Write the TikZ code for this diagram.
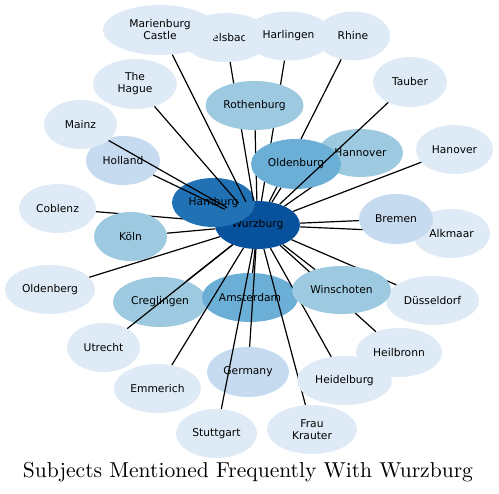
\documentclass[tikz,border=0pt]{standalone}
\usepackage{fontspec}
\usepackage{graphicx}
\usetikzlibrary{shapes.geometric}
\newfontfamily\dejavu{DejaVu Sans}
\newcommand\nodefnt{\dejavu\fontsize{10.7}{12}\selectfont}
\definecolor{b1}{HTML}{08519C}
\definecolor{b2}{HTML}{2171B5}
\definecolor{b3}{HTML}{6BAED6}
\definecolor{b4}{HTML}{9ECAE1}
\definecolor{b5}{HTML}{C6DBEF}
\definecolor{b6}{HTML}{DEEBF7}
\tikzset{
  nb/.style={ellipse, inner sep=0pt, draw=none, font=\nodefnt, align=center, text=black},
  link/.style={draw=black, line width=1.2pt},
}
\begin{document}
\begin{tikzpicture}[x=1pt, y=-1pt]
\useasboundingbox (0,0) rectangle (499,494);
\node[nb, fill=b1, minimum width=85pt, minimum height=48pt] (w) at (257.5,225) {Wurzburg};
\node[nb, fill=b6, minimum width=77pt, minimum height=49pt] (coblenz) at (57.5,208.5) {Coblenz};
\draw[link] (w) -- (coblenz);
\node[nb, fill=b4, minimum width=73pt, minimum height=49pt] (koln) at (130.5,236.5) {Köln};
\draw[link] (w) -- (koln);
\node[nb, fill=b6, minimum width=90pt, minimum height=49pt] (oldenberg) at (50,289.5) {Oldenberg};
\draw[link] (w) -- (oldenberg);
\node[nb, fill=b2, minimum width=83pt, minimum height=49pt] (hamburg) at (213.5,202.5) {Hamburg};
\node[nb, fill=b5, minimum width=74pt, minimum height=49pt] (holland) at (123,160.5) {Holland};
\draw[link] (w) -- (holland);
\node[nb, fill=b6, minimum width=73pt, minimum height=49pt] (mainz) at (80.5,124.5) {Mainz};
\draw[link] (w) -- (mainz);
\node[nb, fill=b6, minimum width=84pt, minimum height=50pt] (hague) at (135,84) {The\\Hague};
\draw[link] (w) -- (hague);
\node[nb, fill=b6, minimum width=89pt, minimum height=49pt] (ebels) at (226,37.5) {Ebelsbach};
\draw[link] (w) -- (ebels);
\node[nb, fill=b6, minimum width=114pt, minimum height=50pt] (marien) at (160,30) {Marienburg\\Castle};
\draw[link] (w) -- (marien);
\node[nb, fill=b6, minimum width=88pt, minimum height=49pt] (harlingen) at (288.5,36) {Harlingen};
\draw[link] (w) -- (harlingen);
\node[nb, fill=b6, minimum width=74pt, minimum height=49pt] (rhine) at (353,36) {Rhine};
\draw[link] (w) -- (rhine);
\node[nb, fill=b4, minimum width=98pt, minimum height=49pt] (rothen) at (254.5,105.5) {Rothenburg};
\draw[link] (w) -- (rothen);
\node[nb, fill=b4, minimum width=85pt, minimum height=48pt] (hannover) at (360.5,153) {Hannover};
\draw[link] (w) -- (hannover);
\node[nb, fill=b3, minimum width=90pt, minimum height=50pt] (oldenburg) at (296,164) {Oldenburg};
\draw[link] (w) -- (oldenburg);
\node[nb, fill=b6, minimum width=74pt, minimum height=50pt] (tauber) at (410,82) {Tauber};
\draw[link] (w) -- (tauber);
\node[nb, fill=b6, minimum width=77pt, minimum height=49pt] (hanover) at (454.5,149.5) {Hanover};
\draw[link] (w) -- (hanover);
\node[nb, fill=b6, minimum width=77pt, minimum height=49pt] (alkmaar) at (451.5,233.5) {Alkmaar};
\draw[link] (w) -- (alkmaar);
\node[nb, fill=b5, minimum width=74pt, minimum height=50pt] (bremen) at (396,219) {Bremen};
\draw[link] (w) -- (bremen);
\node[nb, fill=b4, minimum width=94pt, minimum height=50pt] (cregl) at (160,302) {Creglingen};
\draw[link] (w) -- (cregl);
\node[nb, fill=b6, minimum width=73pt, minimum height=49pt] (utrecht) at (103.5,347.5) {Utrecht};
\draw[link] (w) -- (utrecht);
\node[nb, fill=b3, minimum width=96pt, minimum height=49pt] (amster) at (250,297.5) {Amsterdam};
\draw[link] (w) -- (amster);
\node[nb, fill=b6, minimum width=87pt, minimum height=49pt] (emmerich) at (157.5,388.5) {Emmerich};
\draw[link] (w) -- (emmerich);
\node[nb, fill=b5, minimum width=82pt, minimum height=50pt] (germany) at (248,372) {Germany};
\draw[link] (w) -- (germany);
\node[nb, fill=b6, minimum width=81pt, minimum height=49pt] (stutt) at (216.5,433.5) {Stuttgart};
\draw[link] (w) -- (stutt);
\node[nb, fill=b6, minimum width=90pt, minimum height=49pt] (frau) at (312,429.5) {Frau\\Krauter};
\draw[link] (w) -- (frau);
\node[nb, fill=b6, minimum width=86pt, minimum height=49pt] (heilbronn) at (399,352.5) {Heilbronn};
\draw[link] (w) -- (heilbronn);
\node[nb, fill=b6, minimum width=95pt, minimum height=49pt] (heidel) at (344.5,380.5) {Heidelburg};
\draw[link] (w) -- (heidel);
\node[nb, fill=b6, minimum width=93pt, minimum height=49pt] (dussel) at (432.5,300.5) {Düsseldorf};
\draw[link] (w) -- (dussel);
\node[nb, fill=b4, minimum width=99pt, minimum height=48pt] (winsch) at (341.5,290) {Winschoten};
\draw[link] (w) -- (winsch);
\node[anchor=base, inner sep=0pt] (title) at (248,477.5) {\resizebox{450pt}{!}{Subjects Mentioned Frequently With Wurzburg}};
\end{tikzpicture}
\end{document}
